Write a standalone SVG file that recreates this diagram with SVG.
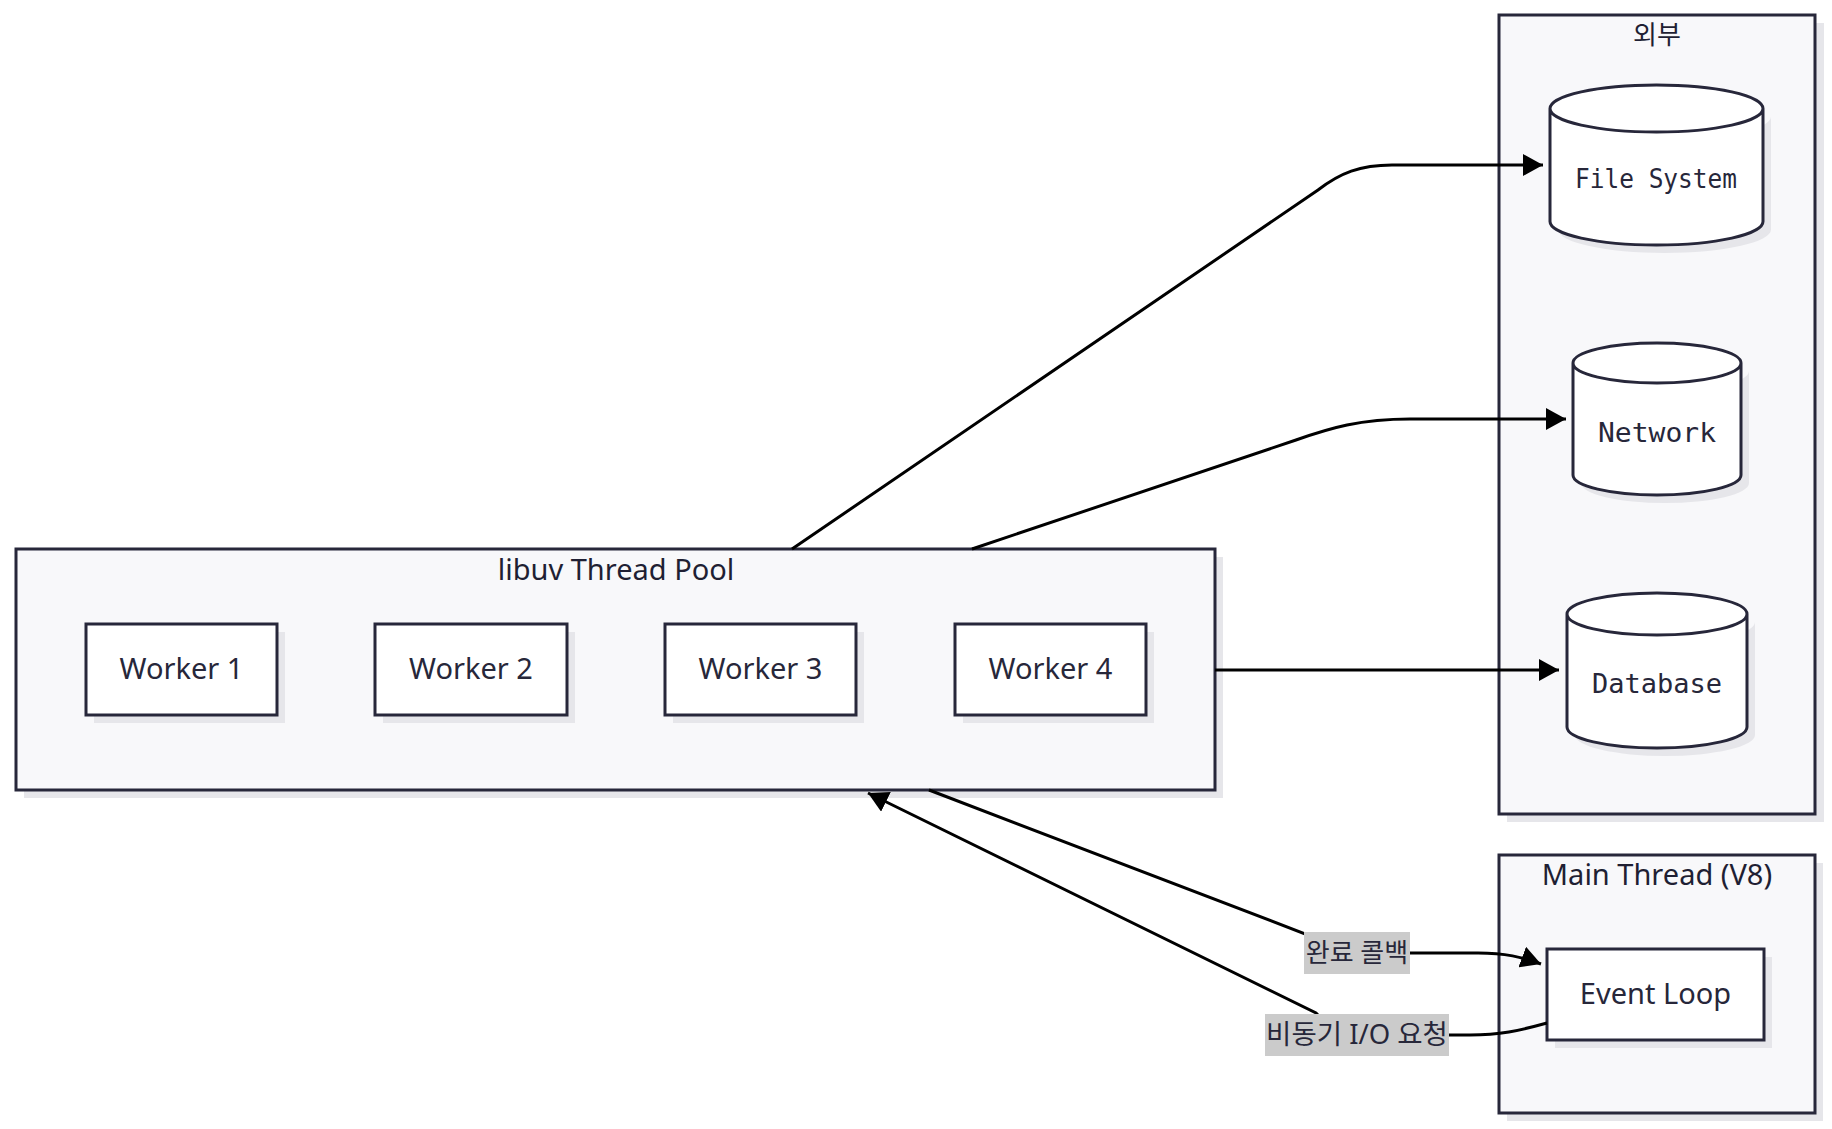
<svg xmlns="http://www.w3.org/2000/svg" width="1832" height="1129" viewBox="0 0 1832 1129">
<defs>
<style>
.cluster{fill:#f8f8fa;stroke:#27273a;stroke-width:3}
.shadow{fill:#e6e6ea}
.node{fill:#ffffff;stroke:#27273a;stroke-width:3}
.title{font-family:"Noto Sans","Open Sans",sans-serif;font-size:29px;fill:#1f1f33;text-anchor:middle}
.ktitle{font-family:"Noto Sans","Noto Sans CJK KR",sans-serif;font-size:26px;fill:#1f1f33;text-anchor:middle}
.lbl{font-family:"Noto Sans","Open Sans",sans-serif;font-size:29px;fill:#27273a;text-anchor:middle}
.mono{font-family:"DejaVu Sans Mono","Liberation Mono",monospace;font-size:26px;fill:#27273a;text-anchor:middle}
.edge{fill:none;stroke:#000000;stroke-width:3}
.elbl-bg{fill:#cbcbcb}
.elbl{font-family:"Noto Sans","Noto Sans CJK KR",sans-serif;font-size:26px;fill:#27273a;text-anchor:middle}
</style>
<marker id="arrow" markerUnits="userSpaceOnUse" viewBox="0 0 20 22" refX="20" refY="11" markerWidth="20" markerHeight="22" orient="auto">
<path d="M0,0 L20,11 L0,22 z" fill="#000000"/>
</marker>
</defs>
<rect width="1832" height="1129" fill="#ffffff"/>

<g id="cluster-external">
<rect class="shadow" x="1507" y="23" width="317" height="799"/>
<rect class="cluster" x="1499" y="15" width="316" height="799"/>
<text class="ktitle" x="1657" y="44">외부</text>
</g>

<g id="cluster-threadpool">
<rect class="shadow" x="24" y="557" width="1199" height="241"/>
<rect class="cluster" x="16" y="549" width="1199" height="241"/>
<text class="title" x="616" y="580">libuv Thread Pool</text>
</g>

<g id="cluster-main">
<rect class="shadow" x="1507" y="863" width="316" height="258"/>
<rect class="cluster" x="1499" y="855" width="316" height="258"/>
<text class="title" x="1657" y="885">Main Thread (V8)</text>
</g>

<g id="node-fs">
<path class="shadow" d="M1558,116.5 a106.5,23.5 0 0 0 213,0 l0,113 a106.5,23.5 0 0 1 -213,0 z"/>
<path class="node" d="M1550,108.5 a106.5,23.5 0 0 0 213,0 a106.5,23.5 0 0 0 -213,0 l0,113 a106.5,23.5 0 0 0 213,0 l0,-113"/>
<text class="mono" x="1656" y="188" textLength="162" lengthAdjust="spacingAndGlyphs">File System</text>
</g>

<g id="node-network">
<path class="shadow" d="M1581,371 a84,20 0 0 0 168,0 l0,112 a84,20 0 0 1 -168,0 z"/>
<path class="node" d="M1573,363 a84,20 0 0 0 168,0 a84,20 0 0 0 -168,0 l0,112 a84,20 0 0 0 168,0 l0,-112"/>
<text class="mono" x="1657" y="442" textLength="118" lengthAdjust="spacingAndGlyphs">Network</text>
</g>

<g id="node-database">
<path class="shadow" d="M1575,622 a90,21 0 0 0 180,0 l0,113 a90,21 0 0 1 -180,0 z"/>
<path class="node" d="M1567,614 a90,21 0 0 0 180,0 a90,21 0 0 0 -180,0 l0,113 a90,21 0 0 0 180,0 l0,-113"/>
<text class="mono" x="1657" y="693" textLength="130" lengthAdjust="spacingAndGlyphs">Database</text>
</g>

<g id="node-w1">
<rect class="shadow" x="94" y="632" width="191" height="91"/>
<rect class="node" x="86" y="624" width="191" height="91"/>
<text class="lbl" x="181.5" y="679">Worker 1</text>
</g>
<g id="node-w2">
<rect class="shadow" x="383" y="632" width="192" height="91"/>
<rect class="node" x="375" y="624" width="192" height="91"/>
<text class="lbl" x="471" y="679">Worker 2</text>
</g>
<g id="node-w3">
<rect class="shadow" x="673" y="632" width="191" height="91"/>
<rect class="node" x="665" y="624" width="191" height="91"/>
<text class="lbl" x="760.5" y="679">Worker 3</text>
</g>
<g id="node-w4">
<rect class="shadow" x="963" y="632" width="191" height="91"/>
<rect class="node" x="955" y="624" width="191" height="91"/>
<text class="lbl" x="1050.5" y="679">Worker 4</text>
</g>

<g id="node-eventloop">
<rect class="shadow" x="1555" y="957" width="217" height="91"/>
<rect class="node" x="1547" y="949" width="217" height="91"/>
<text class="lbl" x="1655.5" y="1004">Event Loop</text>
</g>

<g id="connectors">
<path class="edge" d="M792,549 L1318,190 C1340,173 1360,165 1392,165 L1543,165" marker-end="url(#arrow)"/>
<path class="edge" d="M972,549 L1296,440 C1330,428 1360,419 1410,419 L1566,419" marker-end="url(#arrow)"/>
<path class="edge" d="M1215,670 L1559,670" marker-end="url(#arrow)"/>
<path class="edge" d="M929,790 L1308,935 Q1330,953 1357,953 L1478,953 C1505,953 1522,957 1541,964" marker-end="url(#arrow)"/>
<path class="edge" d="M1547,1023 C1518,1031 1500,1035 1470,1035 L1360,1035 Q1336,1035 1316,1013 L868,793" marker-end="url(#arrow)"/>
<rect class="elbl-bg" x="1304" y="932" width="106" height="42"/>
<text class="elbl" x="1357" y="962">완료 콜백</text>
<rect class="elbl-bg" x="1265" y="1014" width="184" height="42"/>
<text class="elbl" x="1357" y="1044" style="font-size:27.5px">비동기 I/O 요청</text>
</g>
</svg>
